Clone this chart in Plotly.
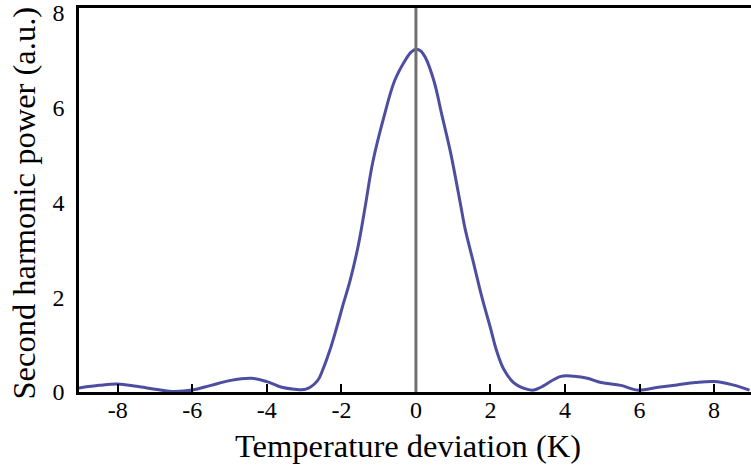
import plotly.graph_objects as go

# Temperature deviation (K) and second harmonic power (a.u.)
temp_dev = [-9.5, -9.0, -8.5, -8.0, -7.5, -7.0, -6.55, -6.0, -5.5, -5.0, -4.41, -4.0,
            -3.6, -3.26, -2.95, -2.64, -2.49, -2.31, -2.13, -1.97, -1.76, -1.55, -1.37,
            -1.16, -0.87, -0.57, -0.27, -0.13, 0.0, 0.12, 0.25, 0.48, 0.70, 0.93, 1.20,
            1.32, 1.55, 1.77, 2.0, 2.16, 2.35, 2.62, 2.97, 3.16, 3.35, 3.89, 4.24, 4.6,
            4.97, 5.5, 5.95, 6.5, 7.0, 7.5, 8.0, 8.5, 8.95]
sh_power = [0.03, 0.09, 0.14, 0.17, 0.12, 0.06, 0.01, 0.04, 0.14, 0.24, 0.29, 0.22,
            0.10, 0.06, 0.06, 0.24, 0.49, 0.88, 1.35, 1.80, 2.37, 3.08, 3.87,
            4.84, 5.77, 6.57, 7.02, 7.17, 7.23, 7.20, 7.06, 6.57, 5.83, 5.05, 3.94,
            3.44, 2.71, 2.0, 1.35, 0.88, 0.49, 0.20, 0.06, 0.04, 0.10, 0.33, 0.33, 0.29,
            0.20, 0.14, 0.04, 0.10, 0.15, 0.20, 0.22, 0.15, 0.04]

x_ticks = [-8, -6, -4, -2, 0, 2, 4, 6, 8]
x_ticklabels = ["-8", "-6", "-4", "-2", "0", "2", "4", "6", "8"]
y_ticks = [0, 2, 4, 6, 8]
y_ticklabels = ["0", "2", "4", "6", "8"]

serif = "Liberation Serif, Times New Roman, serif"

fig = go.Figure()
fig.add_trace(go.Scatter(
    x=temp_dev, y=sh_power, mode="lines",
    line=dict(color="#4e4ea0", width=3, shape="spline", smoothing=1.0),
    showlegend=False, hoverinfo="skip"))

fig.add_vline(x=0, line=dict(color="#707070", width=3), layer="above")

fig.update_layout(
    width=751, height=466,
    margin=dict(l=79, r=0, t=8, b=74),
    paper_bgcolor="white", plot_bgcolor="white",
    font=dict(family=serif, color="black"),
    xaxis=dict(
        range=[-9.04, 8.99], tickvals=x_ticks, ticktext=x_ticklabels,
        ticks="inside", ticklen=8, tickwidth=2, tickcolor="black",
        showline=True, linecolor="black", linewidth=2.5, mirror=True,
        showgrid=False, zeroline=False, ticklabelstandoff=-6,
        tickfont=dict(family=serif, size=24, color="black"),
    ),
    yaxis=dict(
        range=[0, 8.1], tickvals=y_ticks, ticktext=y_ticklabels,
        ticks="", showline=True, linecolor="black", linewidth=2.5, mirror=False,
        showgrid=False, zeroline=False, ticklabelstandoff=7,
        tickfont=dict(family=serif, size=24, color="black"),
    ),
    annotations=[
        dict(text="Temperature deviation (K)", xref="paper", yref="paper",
             x=0.490, y=-0.140, showarrow=False, xanchor="center", yanchor="middle",
             font=dict(family=serif, size=32.5, color="black")),
        dict(text="Second harmonic power (a.u.)", xref="paper", yref="paper",
             x=-0.0818, y=0.491, showarrow=False, xanchor="center", yanchor="middle",
             textangle=-90, font=dict(family=serif, size=32.5, color="black")),
    ],
)

fig.write_html("out.html", config={"displayModeBar": False},
               post_script="document.body.style.margin='0px';")
